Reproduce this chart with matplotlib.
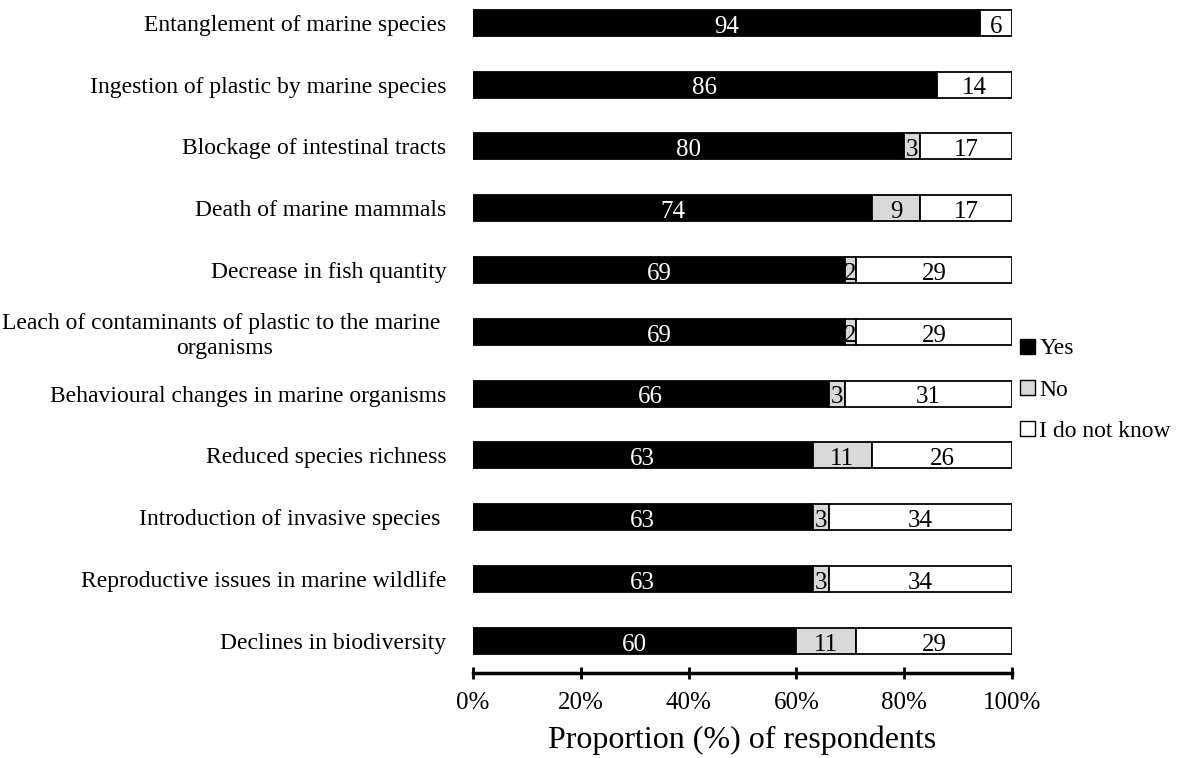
import matplotlib
matplotlib.use("Agg")
import matplotlib.pyplot as plt
from matplotlib.patches import Patch
import numpy as np

plt.rcParams['font.family'] = ['Liberation Serif', 'DejaVu Serif']

categories = [
    "Entanglement of marine species",
    "Ingestion of plastic by marine species",
    "Blockage of intestinal tracts",
    "Death of marine mammals",
    "Decrease in fish quantity",
    "Leach of contaminants of plastic to the marine \norganisms",
    "Behavioural changes in marine organisms",
    "Reduced species richness",
    "Introduction of invasive species ",
    "Reproductive issues in marine wildlife",
    "Declines in biodiversity",
]
yes = [94, 86, 80, 74, 69, 69, 66, 63, 63, 63, 60]
no = [0, 0, 3, 9, 2, 2, 3, 11, 3, 3, 11]
dont_know = [6, 14, 17, 17, 29, 29, 31, 26, 34, 34, 29]
series_names = ["Yes", "No", "I do not know"]
xticks = [0, 20, 40, 60, 80, 100]
xtick_labels = ["0%", "20%", "40%", "60%", "80%", "100%"]

fig = plt.figure(figsize=(11.84, 7.58), dpi=100)
ax = fig.add_axes([473/1184, 1 - 673/758, (1012 - 473)/1184, 673/758])

n = len(categories)
ypos = np.arange(n)[::-1]
yes_a = np.array(yes, float)
no_a = np.array(no, float)
dk_a = np.array(dont_know, float)

h = 0.42
colors = ["#000000", "#d9d9d9", "#ffffff"]
lefts = [np.zeros(n), yes_a, yes_a + no_a]
vals = [yes_a, no_a, dk_a]
txtcol = ["white", "black", "black"]
for s in range(3):
    ax.barh(ypos, vals[s], left=lefts[s], height=h, color=colors[s],
            edgecolor="black", linewidth=1.3, label=series_names[s])
    for i in range(n):
        v = vals[s][i]
        if v > 0:
            ax.text(lefts[s][i] + v / 2, ypos[i] - 0.02, f"{int(v)}", ha="center",
                    va="center_baseline", color=txtcol[s], fontsize=18)

ax.set_xlim(0, 100)
ax.set_ylim(-0.52, n - 1 + 0.37)
ax.set_yticks(ypos)
ax.set_yticklabels(categories, fontsize=17, multialignment="center")
ax.tick_params(axis="y", length=0, pad=19)
ax.set_xticks(xticks)
ax.set_xticklabels(xtick_labels, fontsize=18)
ax.tick_params(axis="x", direction="inout", length=8, width=2, pad=10)
for sp in ["top", "right", "left"]:
    ax.spines[sp].set_visible(False)
ax.spines["bottom"].set_linewidth(2.5)
ax.set_xlabel("Proportion (%) of respondents", fontsize=23, labelpad=8)

handles = [Patch(facecolor=c, edgecolor="black", linewidth=1.0) for c in colors]
fig.legend(handles, series_names, loc="upper left",
           bbox_to_anchor=(1011/1184, 1 - 329/758), frameon=False,
           fontsize=17, handlelength=0.6, handleheight=0.6, handletextpad=0.2,
           labelspacing=0.85, borderaxespad=0)

fig.savefig("out.png", dpi=100)
